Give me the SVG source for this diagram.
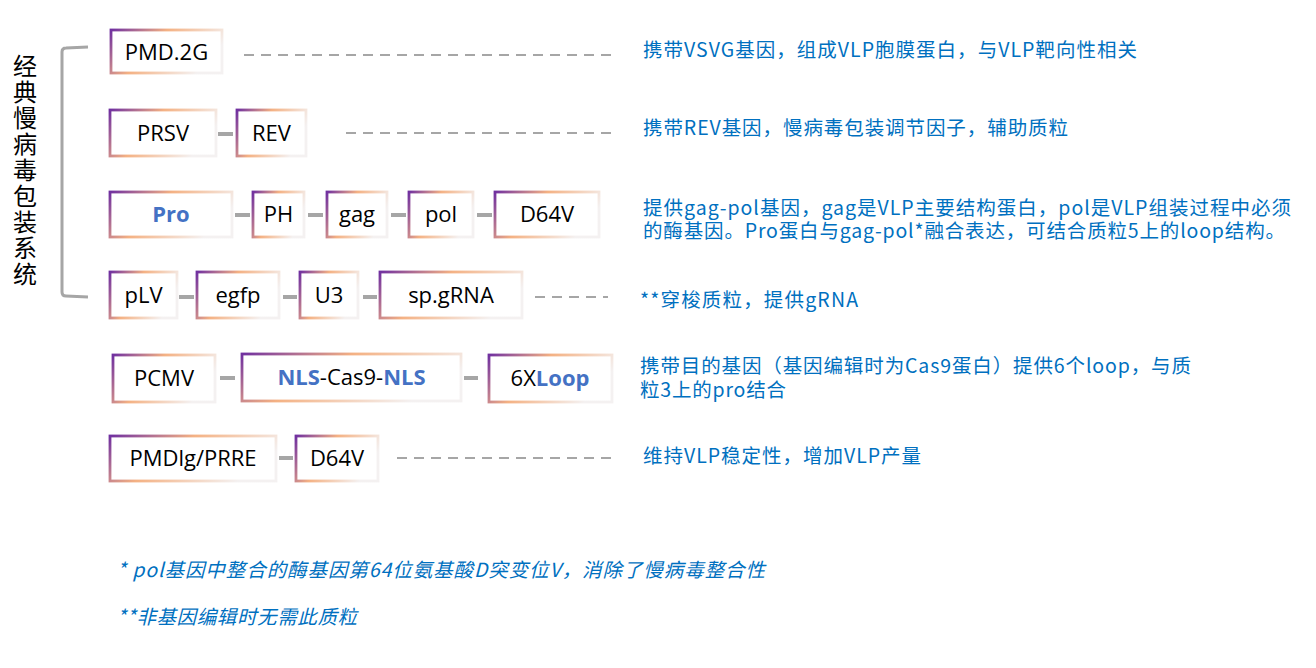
<svg xmlns="http://www.w3.org/2000/svg" width="1316" height="668" viewBox="0 0 1316 668">
<defs>
<linearGradient id="bd" x1="0" y1="0" x2="1" y2="0.35">
<stop offset="0" stop-color="#7030A0"/>
<stop offset="0.45" stop-color="#F4B183"/>
<stop offset="1" stop-color="#F4F1F1"/>
</linearGradient>
<style>
.box{fill:#fff;stroke:url(#bd);stroke-width:2.8}
.bt{font-family:"Open Sans","Noto Sans",sans-serif;font-size:22px;fill:#000;text-anchor:middle}
.hl{fill:#4472C4;font-weight:bold}
.conn{stroke:#A6A6A6;stroke-width:4;fill:none}
.dash{stroke:#A6A6A6;stroke-width:2;stroke-dasharray:10 7;fill:none}
.desc{font-family:"Noto Sans CJK SC","Noto Sans",sans-serif;font-size:19.5px;fill:#0070C0}
.note{font-family:"Noto Sans CJK SC","Noto Sans",sans-serif;font-size:19.5px;fill:#0070C0;font-style:italic}
.title{font-family:"Noto Sans CJK SC",sans-serif;font-size:24px;fill:#000;writing-mode:vertical-rl;letter-spacing:2px}
</style>
</defs>
<rect width="1316" height="668" fill="#fff"/>

<g id="title">
<path d="M88,47 L66,48 Q62,48 62,52 L62,292 Q62,296 66,296 L88,297" stroke="#A6A6A6" stroke-width="3" fill="none"/>
<text class="title" x="25" y="54">经典慢病毒包装系统</text>
</g>

<g id="connectors">
<line class="dash" x1="244" y1="55" x2="612" y2="55"/>
<line class="conn" x1="218" y1="134" x2="233" y2="134"/>
<line class="dash" x1="346" y1="133" x2="614" y2="133"/>
<line class="conn" x1="235" y1="215" x2="250" y2="215"/>
<line class="conn" x1="308" y1="215" x2="323" y2="215"/>
<line class="conn" x1="391" y1="215" x2="406" y2="215"/>
<line class="conn" x1="477" y1="215" x2="492" y2="215"/>
<line class="conn" x1="179" y1="297" x2="194" y2="297"/>
<line class="conn" x1="283" y1="297" x2="297" y2="297"/>
<line class="conn" x1="363" y1="297" x2="377" y2="297"/>
<line class="dash" x1="535" y1="297" x2="608" y2="297"/>
<line class="conn" x1="220" y1="378" x2="235" y2="378"/>
<line class="conn" x1="464" y1="378" x2="478" y2="378"/>
<line class="conn" x1="279" y1="458" x2="293" y2="458"/>
<line class="dash" x1="397" y1="458" x2="615" y2="458"/>
</g>

<g id="n-pmd2g"><rect class="box" x="111" y="30" width="111" height="43"/><text class="bt" x="166.5" y="60">PMD.2G</text></g>

<g id="n-prsv"><rect class="box" x="110" y="110" width="106" height="46"/><text class="bt" x="163" y="141">PRSV</text></g>
<g id="n-rev"><rect class="box" x="237" y="110" width="69" height="46"/><text class="bt" x="271.5" y="141">REV</text></g>

<g id="n-pro"><rect class="box" x="110" y="192" width="122" height="45"/><text class="bt hl" x="171" y="222">Pro</text></g>
<g id="n-ph"><rect class="box" x="253" y="192" width="51" height="45"/><text class="bt" x="278.5" y="222">PH</text></g>
<g id="n-gag"><rect class="box" x="327" y="192" width="60" height="45"/><text class="bt" x="357" y="222">gag</text></g>
<g id="n-pol"><rect class="box" x="409" y="192" width="64" height="45"/><text class="bt" x="441" y="222">pol</text></g>
<g id="n-d64v1"><rect class="box" x="495" y="192" width="104" height="45"/><text class="bt" x="547" y="222">D64V</text></g>

<g id="n-plv"><rect class="box" x="110" y="272" width="67" height="46"/><text class="bt" x="143.5" y="303">pLV</text></g>
<g id="n-egfp"><rect class="box" x="197" y="272" width="82" height="46"/><text class="bt" x="238" y="303">egfp</text></g>
<g id="n-u3"><rect class="box" x="300" y="272" width="58" height="46"/><text class="bt" x="329" y="303">U3</text></g>
<g id="n-spgrna"><rect class="box" x="380" y="272" width="142" height="46"/><text class="bt" x="451" y="303">sp.gRNA</text></g>

<g id="n-pcmv"><rect class="box" x="113" y="355" width="102" height="47"/><text class="bt" x="164" y="386">PCMV</text></g>
<g id="n-cas9"><rect class="box" x="242" y="354" width="219" height="47"/><text class="bt" x="351.5" y="385"><tspan class="hl">NLS</tspan>-Cas9-<tspan class="hl">NLS</tspan></text></g>
<g id="n-loop"><rect class="box" x="489" y="355" width="123" height="47"/><text class="bt" x="550" y="386">6X<tspan class="hl">Loop</tspan></text></g>

<g id="n-pmdlg"><rect class="box" x="110" y="436" width="166" height="45"/><text class="bt" x="193" y="466">PMDlg/PRRE</text></g>
<g id="n-d64v2"><rect class="box" x="296" y="436" width="82" height="45"/><text class="bt" x="337" y="466">D64V</text></g>

<g id="descriptions">
<text class="desc" x="643" y="57" textLength="494" lengthAdjust="spacing">携带VSVG基因，组成VLP胞膜蛋白，与VLP靶向性相关</text>
<text class="desc" x="643" y="135" textLength="425" lengthAdjust="spacing">携带REV基因，慢病毒包装调节因子，辅助质粒</text>
<text class="desc"><tspan x="643" y="215" textLength="648" lengthAdjust="spacing">提供gag-pol基因，gag是VLP主要结构蛋白，pol是VLP组装过程中必须</tspan><tspan x="643" y="238" textLength="642" lengthAdjust="spacing">的酶基因。Pro蛋白与gag-pol*融合表达，可结合质粒5上的loop结构。</tspan></text>
<text class="desc" x="640" y="307" textLength="218" lengthAdjust="spacing">**穿梭质粒，提供gRNA</text>
<text class="desc"><tspan x="640" y="373" textLength="551" lengthAdjust="spacing">携带目的基因（基因编辑时为Cas9蛋白）提供6个loop，与质</tspan><tspan x="640" y="397" textLength="146" lengthAdjust="spacing">粒3上的pro结合</tspan></text>
<text class="desc" x="643" y="463" textLength="278" lengthAdjust="spacing">维持VLP稳定性，增加VLP产量</text>
</g>

<g id="footnotes">
<text class="note" x="117" y="577" textLength="648" lengthAdjust="spacing">* pol基因中整合的酶基因第64位氨基酸D突变位V，消除了慢病毒整合性</text>
<text class="note" x="117" y="624" textLength="240" lengthAdjust="spacing">**非基因编辑时无需此质粒</text>
</g>
</svg>
